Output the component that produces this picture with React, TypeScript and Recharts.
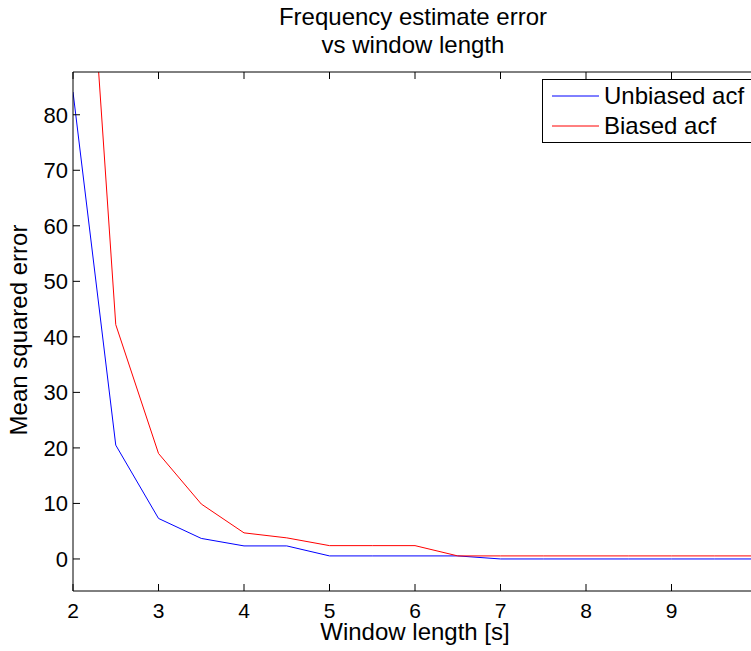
import React from "react";
import { LineChart, Line, XAxis, YAxis, Legend } from "recharts";

const windowLengths = [2, 2.5, 3, 3.5, 4, 4.5, 5, 5.5, 6, 6.5, 7, 7.5, 8, 8.5, 9, 9.5, 10];
const unbiasedErr = [84.1, 20.5, 7.3, 3.7, 2.35, 2.35, 0.55, 0.55, 0.55, 0.55, 0, 0, 0, 0, 0, 0, 0];
const biasedErr = [156, 42.2, 19.0, 9.9, 4.7, 3.8, 2.4, 2.4, 2.4, 0.55, 0.55, 0.55, 0.55, 0.55, 0.55, 0.55, 0.55];
const seriesNames = ["Unbiased acf", "Biased acf"];
const xTicks = [2, 3, 4, 5, 6, 7, 8, 9];
const yTicks = [0, 10, 20, 30, 40, 50, 60, 70, 80];

const data = windowLengths.map((w, i) => ({
  w,
  unbiased: unbiasedErr[i],
  biased: biasedErr[i],
}));

const FONT = '"Liberation Sans", Arial, Helvetica, sans-serif';

const BottomTick = (props: any) => {
  const { x, y, payload } = props;
  return (
    <g>
      <line x1={x} x2={x} y1={y} y2={y - 7} stroke="#000" />
      <text x={x} y={y + 27} textAnchor="middle" fontSize={21} fontFamily={FONT} fill="#000">
        {payload.value}
      </text>
    </g>
  );
};

const TopTick = (props: any) => {
  const { x, y } = props;
  return <line x1={x} x2={x} y1={y} y2={y + 7} stroke="#000" />;
};

const LeftTick = (props: any) => {
  const { x, y, payload } = props;
  return (
    <g>
      <line x1={x} x2={x + 7} y1={y} y2={y} stroke="#000" />
      <text x={x - 5} y={y + 8} textAnchor="end" fontSize={22} fontFamily={FONT} fill="#000">
        {payload.value}
      </text>
    </g>
  );
};

const LegendBox = () => (
  <svg width={230} height={65} style={{ display: "block" }}>
    <rect x={0.5} y={0.5} width={240} height={63} fill="#fff" stroke="#000" />
    {[
      { name: seriesNames[0], color: "#0000ff" },
      { name: seriesNames[1], color: "#ff0000" },
    ].map((it, i) => (
      <g key={i}>
        <line x1={10} x2={57} y1={17 + i * 30} y2={17 + i * 30} stroke={it.color} />
        <text x={62} y={25 + i * 30} fontSize={24} fontFamily={FONT} fill="#000">
          {it.name}
        </text>
      </g>
    ))}
  </svg>
);

export default function App() {
  return (
    <div style={{ position: "fixed", left: 0, top: 0, width: 751, height: 651, overflow: "hidden", background: "#fff" }}>
      <div style={{ position: "absolute", left: 0, top: 3, width: 826, textAlign: "center", fontFamily: FONT, fontSize: 24, lineHeight: "28px", color: "#000" }}>
        Frequency estimate error
        <br />
        vs window length
      </div>
      <LineChart width={800} height={651} data={data} margin={{ top: 42, right: 43, bottom: 30, left: 13 }}>
        <XAxis
          dataKey="w"
          type="number"
          domain={[2, 10]}
          ticks={xTicks}
          tick={<BottomTick />}
          tickLine={false}
          tickSize={0}
          tickMargin={0}
          axisLine={{ stroke: "#000" }}
          allowDataOverflow
          height={30}
        />
        <XAxis
          xAxisId="top"
          orientation="top"
          dataKey="w"
          type="number"
          domain={[2, 10]}
          ticks={xTicks}
          tick={<TopTick />}
          tickLine={false}
          tickSize={0}
          tickMargin={0}
          axisLine={{ stroke: "#000" }}
          allowDataOverflow
          height={30}
        />
        <YAxis
          type="number"
          domain={[-5.77, 87.7]}
          ticks={yTicks}
          tick={<LeftTick />}
          tickLine={false}
          tickSize={0}
          tickMargin={0}
          axisLine={{ stroke: "#000" }}
          allowDataOverflow
          width={60}
        />
        <Legend
          layout="horizontal"
          verticalAlign="middle"
          align="center"
          content={<LegendBox />}
          wrapperStyle={{ left: 542, top: 79, width: 230, height: 65 }}
        />
        <Line dataKey="unbiased" name={seriesNames[0]} stroke="#0000ff" strokeWidth={1} dot={false} isAnimationActive={false} />
        <Line dataKey="biased" name={seriesNames[1]} stroke="#ff0000" strokeWidth={1} dot={false} isAnimationActive={false} />
      </LineChart>
      <div style={{ position: "absolute", left: 0, top: 623, width: 830, textAlign: "center", fontFamily: FONT, fontSize: 24, lineHeight: "18px", color: "#000" }}>
        Window length [s]
      </div>
      <div
        style={{
          position: "absolute",
          left: 19,
          top: 330,
          transform: "translate(-50%, -50%) rotate(-90deg)",
          whiteSpace: "nowrap",
          fontFamily: FONT,
          fontSize: 24,
          lineHeight: "28px",
          color: "#000",
        }}
      >
        Mean squared error
      </div>
    </div>
  );
}
